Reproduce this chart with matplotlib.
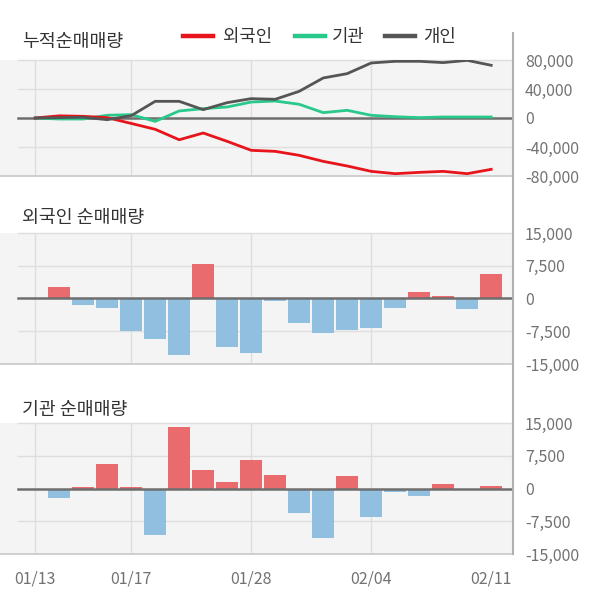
import matplotlib
matplotlib.use("Agg")
import matplotlib.pyplot as plt
from matplotlib.lines import Line2D
import numpy as np

plt.rcParams['font.family'] = ['Noto Sans CJK KR', 'DejaVu Sans']

dates = ['01/13', '01/14', '01/15', '01/16', '01/17', '01/20', '01/21', '01/22',
         '01/23', '01/28', '01/29', '01/30', '01/31', '02/03', '02/04', '02/05',
         '02/06', '02/07', '02/10', '02/11']
tick_dates = ['01/13', '01/17', '01/28', '02/04', '02/11']

foreign_cum = [0, 3000, 2300, 500, -7500, -15600, -30000, -20700, -32200, -44600,
               -46000, -51500, -59800, -66200, -73600, -76800, -75000, -73600, -76800, -70800]
inst_cum = [0, -1400, -1400, 3800, 4600, -4600, 9700, 12900, 15200, 22000,
            23400, 18900, 7400, 10600, 3700, 1800, 500, 1400, 1400, 1400]
indiv_cum = [0, 500, 1000, -2300, 3200, 23000, 23000, 11500, 21200, 26700,
             25800, 36800, 55200, 61200, 75900, 78200, 78200, 76400, 79500, 72700]

foreign_net = [0, 2600, -1400, -2100, -7500, -9300, -12900, 8000, -11100, -12450,
               -500, -5700, -7950, -7300, -6800, -2100, 1400, 550, -2300, 5700]
inst_net = [0, -2100, 400, 5500, 400, -10650, 14000, 4350, 1400, 6600,
            3000, -5700, -11400, 2800, -6600, -750, -1700, 1000, 0, 550]

W, H = 600, 604
fig = plt.figure(figsize=(W / 100, H / 100), dpi=100)
fig.patch.set_facecolor('white')

x = np.arange(len(dates))
XL = (-35.2 / 24, (513 - 35.2) / 24)
GRID_X0 = -0.72
BG = '#f4f4f4'
GRID = '#dedede'
TICKC = '#727272'
TITLEC = '#333333'


def make_ax(top, bottom):
    ax = fig.add_axes([0, 1 - bottom / H, 513 / W, (bottom - top) / H])
    ax.set_facecolor(BG)
    ax.set_xlim(*XL)
    for s in ['top', 'left', 'right']:
        ax.spines[s].set_visible(False)
    ax.spines['bottom'].set_color('#c8c8c8')
    ax.spines['bottom'].set_linewidth(1.2)
    ax.yaxis.tick_right()
    ax.tick_params(axis='y', length=0, pad=8.5, labelsize=11.5, labelcolor=TICKC)
    ax.tick_params(axis='x', length=0)
    for i, d in enumerate(dates):
        if d in tick_dates[:-1]:
            ax.axvline(i, color=GRID, lw=1.0, zorder=0)
    return ax


def hgrid(ax, vals):
    for v in vals:
        ax.plot([GRID_X0, XL[1]], [v, v], color=GRID, lw=1.0, zorder=0.5, clip_on=False)


# ---- Top: cumulative
ax1 = make_ax(60, 176)
ax1.set_ylim(-80000, 80000)
yt = [80000, 40000, 0, -40000, -80000]
ax1.set_yticks(yt)
ax1.set_yticklabels([f'{v:,}' for v in yt])
ax1.set_xticks([])
hgrid(ax1, [80000, 40000, -40000])
ax1.plot([GRID_X0, XL[1]], [0, 0], color='#6e6e6e', lw=1.8, zorder=2)
ax1.plot(x, inst_cum, color='#28c98b', lw=2.0, zorder=3)
ax1.plot(x, foreign_cum, color='#e8141b', lw=2.0, zorder=4)
ax1.plot(x, indiv_cum, color='#555555', lw=2.0, zorder=5)

# ---- Middle: foreign net
RED = '#ea6b6e'
BLUE = '#90bfe0'
ax2 = make_ax(233, 364)
ax2.set_ylim(-15000, 15000)
yt2 = [15000, 7500, 0, -7500, -15000]
ax2.set_yticks(yt2)
ax2.set_yticklabels([f'{v:,}' for v in yt2])
ax2.set_xticks([])
hgrid(ax2, [15000, 7500, -7500])
ax2.bar(x, foreign_net, width=0.93, color=[RED if v > 0 else BLUE for v in foreign_net], zorder=2)
ax2.plot([GRID_X0, XL[1]], [0, 0], color='#6e6e6e', lw=1.8, zorder=3)

# ---- Bottom: institution net
ax3 = make_ax(423, 554)
ax3.set_ylim(-15000, 15000)
ax3.set_yticks(yt2)
ax3.set_yticklabels([f'{v:,}' for v in yt2])
hgrid(ax3, [15000, 7500, -7500])
ax3.bar(x, inst_net, width=0.93, color=[RED if v > 0 else BLUE for v in inst_net], zorder=2)
ax3.plot([GRID_X0, XL[1]], [0, 0], color='#6e6e6e', lw=1.8, zorder=3)
tpos = [dates.index(d) for d in tick_dates]
ax3.set_xticks(tpos)
ax3.set_xticklabels(tick_dates)
ax3.tick_params(axis='x', pad=12, labelsize=11.5, labelcolor=TICKC)

# ---- Right vertical separator
fig.add_artist(Line2D([513 / W, 513 / W], [1 - 33 / H, 1 - 554 / H], color='#b0b0b0', lw=1.5))

# ---- Titles
def ftext(px, py, s, **kw):
    fig.text(px / W, 1 - py / H, s, **kw)

ftext(22, 42, '누적순매매량', fontsize=13.2, color=TITLEC, va='center', ha='left')
ftext(22, 218, '외국인 순매매량', fontsize=13.2, color=TITLEC, va='center', ha='left')
ftext(22, 410, '기관 순매매량', fontsize=13.2, color=TITLEC, va='center', ha='left')

# ---- Legend
leg = [('외국인', '#e8141b', 183, 213, 223),
       ('기관', '#28c98b', 295, 325, 332),
       ('개인', '#555555', 385, 415, 423)]
for label, col, x0, x1, tx in leg:
    fig.add_artist(Line2D([x0 / W, x1 / W], [1 - 36 / H, 1 - 36 / H], color=col, lw=3.2))
    ftext(tx, 37, label, fontsize=12.8, color=TITLEC, va='center', ha='left')

fig.savefig('out.png', dpi=100, facecolor='white')
